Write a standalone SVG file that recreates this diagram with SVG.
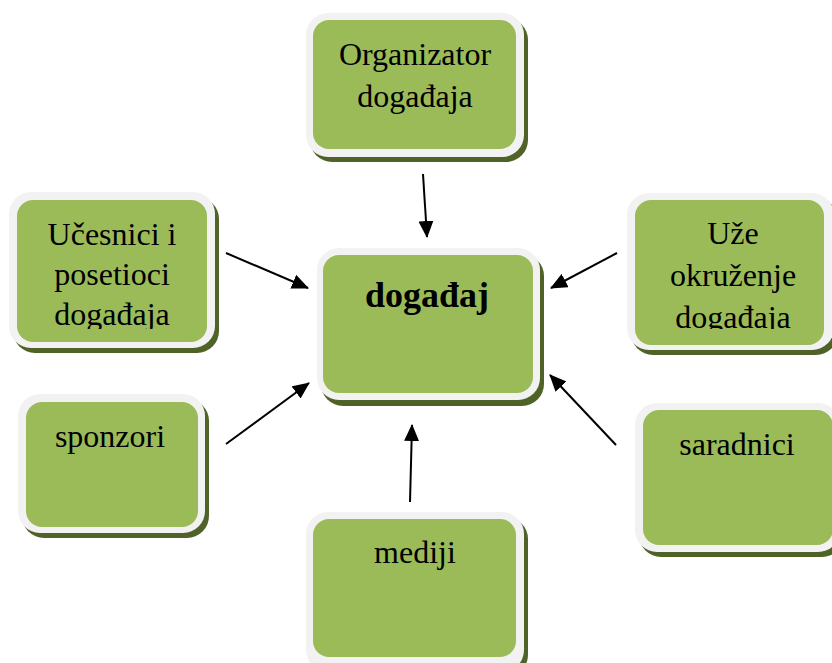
<svg xmlns="http://www.w3.org/2000/svg" width="832" height="663" viewBox="0 0 832 663">
<style>
.shadow{fill:#4f6228}
.outer{fill:#f2f2f2}
.inner{fill:#9bbb59}
.t{font-family:"Liberation Serif","Times New Roman",serif;font-size:32px;fill:#000;text-anchor:middle}
.b{font-weight:bold;font-size:36px}
.conn{stroke:#000;stroke-width:2;fill:none;marker-end:url(#ah)}
</style>
<defs>
<marker id="ah" markerUnits="userSpaceOnUse" markerWidth="17" markerHeight="15" refX="16" refY="7.5" orient="auto">
<path d="M0,0 L17,7.5 L0,15 Z" fill="#000"/>
</marker>
<clipPath id="c1"><rect x="0" y="0" width="832" height="329"/></clipPath>
</defs>
<rect width="832" height="663" fill="#fff"/>
<g id="organizator">
<rect class="shadow" x="310" y="18" width="218" height="144" rx="22"/>
<rect class="outer" x="306" y="13" width="218" height="144" rx="22"/>
<rect class="inner" x="313" y="20" width="203" height="129" rx="16"/>
<text class="t" x="415" y="65">Organizator</text>
<text class="t" x="415" y="107">događaja</text>
</g>
<g id="ucesnici">
<rect class="shadow" x="13" y="197" width="206" height="156" rx="22"/>
<rect class="outer" x="9" y="192" width="206" height="156" rx="22"/>
<rect class="inner" x="17" y="200" width="190" height="142" rx="16"/>
<g clip-path="url(#c1)">
<text class="t" x="112" y="245">Učesnici i</text>
<text class="t" x="112" y="285">posetioci</text>
<text class="t" x="112" y="325">događaja</text>
</g>
</g>
<g id="dogadjaj">
<rect class="shadow" x="321" y="254" width="223" height="152" rx="22"/>
<rect class="outer" x="317" y="248" width="223" height="152" rx="22"/>
<rect class="inner" x="323" y="255" width="210" height="138" rx="16"/>
<text class="t b" x="427" y="307">događaj</text>
</g>
<g id="uze">
<rect class="shadow" x="631" y="198" width="207" height="157" rx="22"/>
<rect class="outer" x="627" y="193" width="207" height="157" rx="22"/>
<rect class="inner" x="635" y="200" width="189" height="145" rx="16"/>
<g clip-path="url(#c1)">
<text class="t" x="733" y="244">Uže</text>
<text class="t" x="733" y="286">okruženje</text>
<text class="t" x="733" y="328">događaja</text>
</g>
</g>
<g id="saradnici">
<rect class="shadow" x="639" y="408" width="205" height="149" rx="22"/>
<rect class="outer" x="635" y="403" width="205" height="149" rx="22"/>
<rect class="inner" x="643" y="410" width="190" height="135" rx="16"/>
<text class="t" x="737" y="455">saradnici</text>
</g>
<g id="mediji">
<rect class="shadow" x="310" y="517" width="218" height="160" rx="22"/>
<rect class="outer" x="306" y="512" width="218" height="160" rx="22"/>
<rect class="inner" x="313" y="519" width="203" height="138" rx="16"/>
<text class="t" x="415" y="563">mediji</text>
</g>
<g id="sponzori">
<rect class="shadow" x="22" y="399" width="187" height="139" rx="22"/>
<rect class="outer" x="18" y="394" width="187" height="139" rx="22"/>
<rect class="inner" x="26" y="402" width="172" height="125" rx="16"/>
<text class="t" x="110" y="447">sponzori</text>
</g>
<g id="connectors">
<line class="conn" x1="423" y1="174" x2="427" y2="237"/>
<line class="conn" x1="226" y1="253" x2="308" y2="288"/>
<line class="conn" x1="617" y1="253" x2="551" y2="288"/>
<line class="conn" x1="226" y1="444" x2="309" y2="383"/>
<line class="conn" x1="616" y1="445" x2="550" y2="375"/>
<line class="conn" x1="410" y1="502" x2="412" y2="425"/>
</g>
</svg>
